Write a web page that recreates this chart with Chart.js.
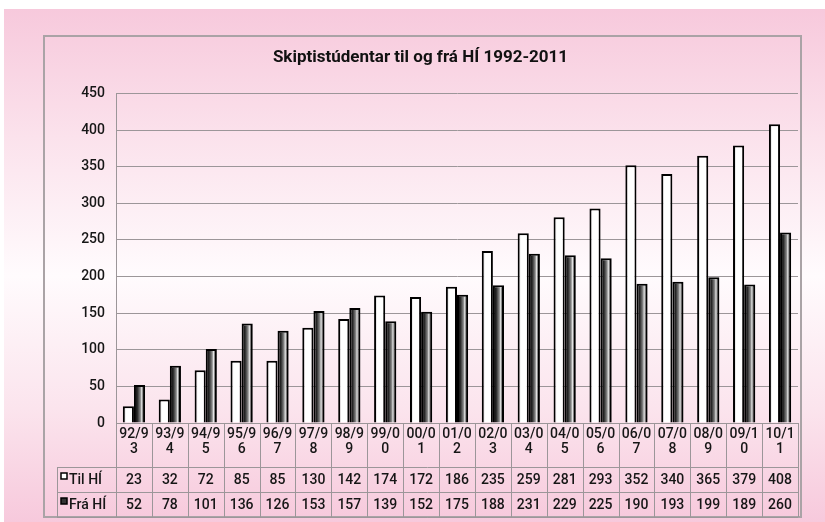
<!DOCTYPE html>
<html>
<head>
<meta charset="utf-8">
<script src="https://cdn.jsdelivr.net/npm/chart.js@4.4.1/dist/chart.umd.min.js"></script>
<style>
  html, body { margin: 0; padding: 0; background: #fff; }
  #wrap { position: relative; width: 825px; height: 522px; }
  #bg {
    position: absolute; left: 4px; top: 9px; right: 0; bottom: 0;
    background: linear-gradient(to bottom, #f7c9dc 0%, #fbe2ec 25%, #fffbfd 52%, #fbe4ed 78%, #f7c9dc 100%);
  }
  canvas { position: absolute; left: 0; top: 0; }
</style>
</head>
<body>
<div id="wrap">
  <div id="bg"></div>
  <canvas id="student-chart" width="825" height="522"></canvas>
</div>
<script>
const categories = [
  ['92/9', '3'], ['93/9', '4'], ['94/9', '5'], ['95/9', '6'], ['96/9', '7'],
  ['97/9', '8'], ['98/9', '9'], ['99/0', '0'], ['00/0', '1'], ['01/0', '2'],
  ['02/0', '3'], ['03/0', '4'], ['04/0', '5'], ['05/0', '6'], ['06/0', '7'],
  ['07/0', '8'], ['08/0', '9'], ['09/1', '0'], ['10/1', '1'],
];
const tilHI = [23, 32, 72, 85, 85, 130, 142, 174, 172, 186, 235, 259, 281, 293, 352, 340, 365, 379, 408];
const fraHI = [52, 78, 101, 136, 126, 153, 157, 139, 152, 175, 188, 231, 229, 225, 190, 193, 199, 189, 260];
const seriesNames = ['Til HÍ', 'Frá HÍ'];
const yMax = 450;
const yStep = 50;

const categoryPct = 0.62;
const barPct = 1;
const fontFamily = 'Roboto, "DejaVu Sans", sans-serif';
const lineColor = '#9c9699';
const textColor = '#161616';

const tilStops = [[0, '#a0a0a0'], [0.28, '#ffffff'], [0.85, '#ffffff'], [1, '#e8e8e8']];
const fraStops = [[0, '#000000'], [0.3, '#262626'], [0.58, '#8a8a8a'], [0.7, '#e6e6e6'], [0.84, '#3a3a3a'], [1, '#000000']];

// horizontal gradient per bar, position taken from the x scale
const barGradient = (stops, slot) => (context) => {
  const chart = context.chart;
  const { chartArea, scales } = chart;
  if (!chartArea || !scales.x || context.dataIndex === undefined) return stops[1][1];
  const cw = (chartArea.right - chartArea.left) / categories.length;
  const group = cw * categoryPct;
  const w = (group / 2) * barPct;
  const center = scales.x.getPixelForValue(context.dataIndex);
  const x0 = center - group / 2 + slot * (group / 2) + (group / 2 - w) / 2;
  const g = chart.ctx.createLinearGradient(x0, 0, x0 + w, 0);
  stops.forEach(([p, c]) => g.addColorStop(p, c));
  return g;
};

const frameAndTable = {
  id: 'frameAndTable',
  beforeDraw(chart) {
    const { ctx } = chart;
    ctx.save();
    ctx.strokeStyle = '#aaa3a6';
    ctx.lineWidth = 2;
    ctx.strokeRect(44, 36, 757, 481);
    ctx.restore();
  },
  afterDraw(chart) {
    const { ctx, chartArea, scales } = chart;
    const x = scales.x;
    const left = chartArea.left;
    const right = chartArea.right;
    const top = chartArea.bottom;
    const r1 = top + 44;
    const r2 = r1 + 25;
    const r3 = r2 + 25;
    const legendLeft = 57;
    const cw = (right - left) / categories.length;

    ctx.save();
    ctx.strokeStyle = lineColor;
    ctx.lineWidth = 1;
    ctx.beginPath();
    ctx.moveTo(left, top + 0.5); ctx.lineTo(right, top + 0.5);
    ctx.moveTo(legendLeft, r1 + 0.5); ctx.lineTo(right, r1 + 0.5);
    ctx.moveTo(legendLeft, r2 + 0.5); ctx.lineTo(right, r2 + 0.5);
    ctx.moveTo(legendLeft, r3 + 0.5); ctx.lineTo(right, r3 + 0.5);
    ctx.moveTo(legendLeft + 0.5, r1); ctx.lineTo(legendLeft + 0.5, r3);
    for (let i = 0; i <= categories.length; i++) {
      const xx = Math.round(left + i * cw) + 0.5;
      ctx.moveTo(xx, top); ctx.lineTo(xx, r3);
    }
    ctx.stroke();

    ctx.fillStyle = textColor;
    ctx.font = '500 14px ' + fontFamily;
    ctx.textAlign = 'center';
    ctx.textBaseline = 'middle';
    categories.forEach((lines, i) => {
      const cx = x.getPixelForValue(i);
      ctx.fillText(lines[0], cx, top + 11);
      ctx.fillText(lines[1], cx, top + 26);
      ctx.fillText(String(tilHI[i]), cx, r1 + 13);
      ctx.fillText(String(fraHI[i]), cx, r2 + 13);
    });

    // legend keys
    ctx.textAlign = 'left';
    [[r1, '#ffffff'], [r2, '#333333']].forEach(([ry, fill], k) => {
      ctx.fillStyle = fill;
      ctx.strokeStyle = '#000';
      ctx.lineWidth = 1.5;
      ctx.fillRect(61, ry + 6, 6, 6);
      ctx.strokeRect(61, ry + 6, 6, 6);
      ctx.fillStyle = textColor;
      ctx.fillText(seriesNames[k], 69, ry + 13);
    });
    ctx.restore();
  },
};

const ctx = document.getElementById('student-chart').getContext('2d');

new Chart(ctx, {
  type: 'bar',
  data: {
    labels: categories,
    datasets: [
      {
        label: seriesNames[0],
        data: tilHI,
        backgroundColor: barGradient(tilStops, 0),
        borderColor: '#000',
        borderWidth: 2,
        borderSkipped: 'bottom',
        categoryPercentage: categoryPct,
        barPercentage: barPct,
      },
      {
        label: seriesNames[1],
        data: fraHI,
        backgroundColor: barGradient(fraStops, 1),
        borderColor: '#000',
        borderWidth: 2,
        borderSkipped: 'bottom',
        categoryPercentage: categoryPct,
        barPercentage: barPct,
      },
    ],
  },
  options: {
    responsive: false,
    animation: false,
    layout: { padding: { left: 43, right: 27, top: 35, bottom: 99 } },
    plugins: {
      legend: { display: false },
      tooltip: { enabled: false },
      title: {
        display: true,
        text: 'Skiptistúdentar til og frá HÍ 1992-2011',
        color: '#111',
        font: { size: 17, weight: 'bold', family: fontFamily },
        padding: { top: 13, bottom: 25 },
      },
    },
    scales: {
      x: { display: false },
      y: {
        min: 0,
        max: yMax,
        ticks: {
          stepSize: yStep,
          padding: 11,
          color: textColor,
          font: { size: 14, weight: '500', family: fontFamily },
        },
        grid: { color: lineColor, drawTicks: false },
        border: { display: true, color: lineColor },
        afterFit: (scale) => { scale.width = 73; },
      },
    },
  },
  plugins: [frameAndTable],
});
</script>
</body>
</html>
